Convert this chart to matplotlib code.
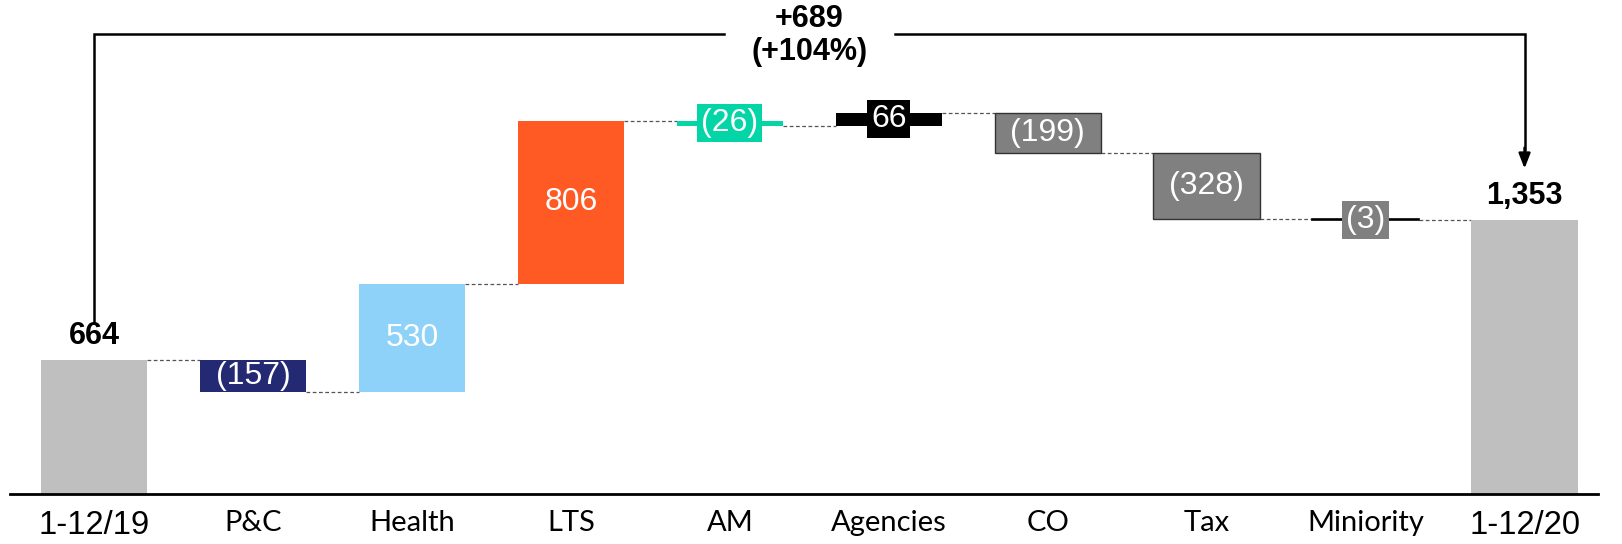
import matplotlib
matplotlib.use("Agg")
import matplotlib.pyplot as plt
from matplotlib import font_manager

# --- data ---------------------------------------------------------------
categories = ["1-12/19", "P&C", "Health", "LTS", "AM", "Agencies", "CO", "Tax",
              "Miniority", "1-12/20"]
start_value = 664
deltas = [-157, 530, 806, -26, 66, -199, -328, -3]
end_value = 1353
bar_colors = ["#BFBFBF", "#232A73", "#8ED2FA", "#FF5A24", "#03D5A6", "#000000",
              "#808080", "#808080", "#808080", "#BFBFBF"]
change_label = "+689"
change_pct_label = "(+104%)"

# --- fonts --------------------------------------------------------------
names = {f.name for f in font_manager.fontManager.ttflist}
NARROW = ["Liberation Sans Narrow", "Liberation Sans", "DejaVu Sans"]
NARROW = [n for n in NARROW if n in names] or ["DejaVu Sans"]
CAT = ["Lato", "DejaVu Sans"]
CAT = [n for n in CAT if n in names] or ["DejaVu Sans"]


def fmt(v):
    return f"({abs(v):,})" if v < 0 else f"{v:,}"


# --- figure -------------------------------------------------------------
fig = plt.figure(figsize=(16.22, 5.44), dpi=100)
ax = fig.add_axes([0.0064, 0.091, 0.9786, 0.909])
ax.set_xlim(-0.527, 9.46)
ax.set_ylim(0, 2438)
for s in ["top", "right", "left"]:
    ax.spines[s].set_visible(False)
ax.spines["bottom"].set_linewidth(2)
ax.set_yticks([])
ax.set_xticks(range(len(categories)))
ax.tick_params(axis="x", length=0, pad=11)
ax.set_xticklabels(categories)
for i, lab in enumerate(ax.get_xticklabels()):
    if i in (0, len(categories) - 1):
        lab.set_fontfamily(NARROW)
        lab.set_fontsize(23.5)
    else:
        lab.set_fontfamily(CAT)
        lab.set_fontsize(21)

W = 0.67

# running levels
levels = [start_value]
for d in deltas:
    levels.append(levels[-1] + d)

# total bars
ax.bar(0, start_value, width=W, color=bar_colors[0], zorder=2)
ax.bar(len(categories) - 1, end_value, width=W, color=bar_colors[-1], zorder=2)

# delta bars
for k, d in enumerate(deltas):
    i = k + 1
    lo = min(levels[k], levels[k + 1])
    h = abs(d)
    edge = "none"
    lw = 0
    if i in (6, 7):
        edge, lw = "#333333", 1.0
    if i == 8:
        edge, lw = "#000000", 1.2
    ax.bar(i, h, bottom=lo, width=W, color=bar_colors[i], edgecolor=edge,
           linewidth=lw, zorder=2)

# dashed connectors
for i in range(len(categories) - 1):
    y = levels[i]
    ax.plot([i + W / 2, i + 1 - W / 2], [y, y], ls=(0, (3, 2)), lw=0.9,
            color="#555555", zorder=1)

# value labels on delta bars
boxed = {4: bar_colors[4], 5: bar_colors[5], 8: bar_colors[8]}
for k, d in enumerate(deltas):
    i = k + 1
    yc = (levels[k] + levels[k + 1]) / 2
    kw = dict(ha="center", va="center", color="white", fontsize=23,
              family=NARROW, zorder=4)
    if i in boxed:
        kw["bbox"] = dict(boxstyle="square,pad=0.12", fc=boxed[i], ec="none")
    ax.text(i, yc, fmt(d), **kw)

# total labels
ax.text(0, start_value + 45, fmt(start_value), ha="center", va="bottom",
        fontsize=22, fontweight="bold", family=NARROW)
ax.text(len(categories) - 1, end_value + 45, fmt(end_value), ha="center",
        va="bottom", fontsize=22, fontweight="bold", family=NARROW)

# bracket showing the overall change
yb = 2271
xl, xr = 0, len(categories) - 1
xm = (xl + xr) / 2
ax.plot([xl, xl, xm - 0.54], [857, yb, yb], color="black", lw=1.8,
        solid_joinstyle="miter", zorder=3)
ax.plot([xm + 0.54, xr, xr], [yb, yb, 1700], color="black", lw=1.8,
        solid_joinstyle="miter", zorder=3)
ax.annotate("", xy=(xr, 1607), xytext=(xr, 1710),
            arrowprops=dict(arrowstyle="-|>,head_length=0.9,head_width=0.35",
                            color="black", lw=1.8, shrinkA=0, shrinkB=0))
ax.text(xm, 2345, change_label, ha="center", va="center", fontsize=22,
        fontweight="bold", family=NARROW)
ax.text(xm, 2180, change_pct_label, ha="center", va="center", fontsize=22,
        fontweight="bold", family=NARROW)

fig.savefig("out.png", dpi=100)
